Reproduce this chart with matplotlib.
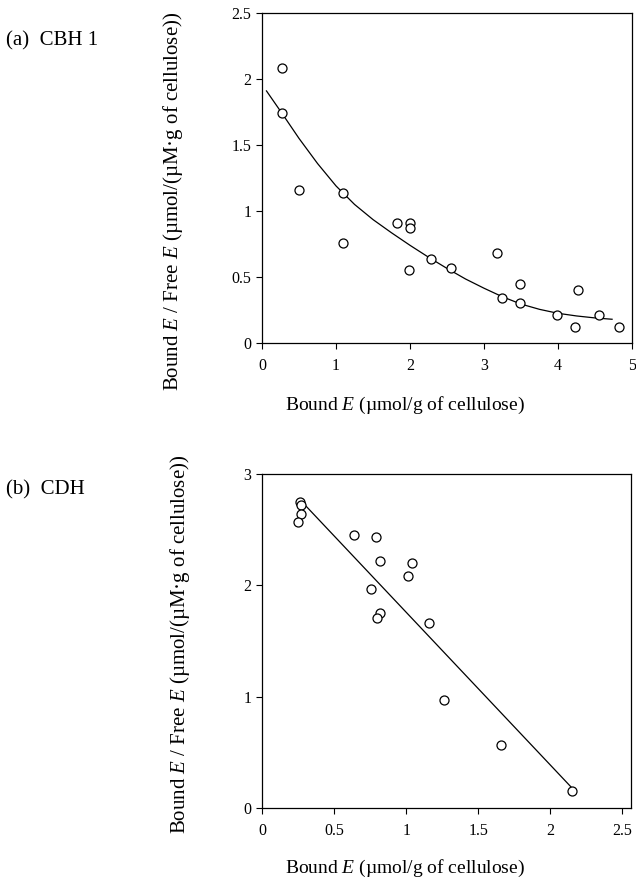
import matplotlib
matplotlib.use("Agg")
import matplotlib.pyplot as plt
from matplotlib.ticker import FuncFormatter

# --- fontes tipo Times ---
plt.rcParams['font.family'] = ['Liberation Serif', 'DejaVu Serif']
plt.rcParams['mathtext.fontset'] = 'custom'
plt.rcParams['mathtext.rm'] = 'Liberation Serif'
plt.rcParams['mathtext.it'] = 'Liberation Serif:italic'

# --- dados (a) CBH 1 ---
x_cbh = [0.27, 0.27, 0.50, 1.09, 1.09, 1.82, 2.00, 2.00, 1.98, 2.28,
         2.55, 3.18, 3.24, 3.49, 3.49, 3.99, 4.23, 4.27, 4.56, 4.83]
y_cbh = [2.08, 1.74, 1.16, 1.14, 0.76, 0.91, 0.91, 0.87, 0.55, 0.64,
         0.57, 0.68, 0.34, 0.45, 0.30, 0.21, 0.12, 0.40, 0.21, 0.12]
# curva ajustada
curva_x_cbh = [0.06, 0.27, 0.5, 0.75, 1.0, 1.25, 1.5, 1.75, 2.0, 2.25,
               2.5, 2.75, 3.0, 3.25, 3.5, 3.75, 4.0, 4.25, 4.5, 4.73]
curva_y_cbh = [1.91, 1.74, 1.55, 1.36, 1.19, 1.05, 0.935, 0.835, 0.74, 0.65,
               0.565, 0.485, 0.415, 0.35, 0.295, 0.255, 0.225, 0.205, 0.19, 0.18]

# --- dados (b) CDH ---
x_cdh = [0.265, 0.27, 0.27, 0.25, 0.64, 0.79, 0.82, 1.04, 1.01, 0.755,
         0.82, 0.80, 1.16, 1.26, 1.66, 2.15]
y_cdh = [2.75, 2.72, 2.64, 2.57, 2.45, 2.43, 2.22, 2.20, 2.08, 1.97,
         1.75, 1.71, 1.66, 0.97, 0.57, 0.15]
reta_x_cdh = [0.277, 2.143]
reta_y_cdh = [2.75, 0.19]

rotulo_y = r'Bound $\mathit{E}$ / Free $\mathit{E}$ (µmol/(µM·g of cellulose))'
rotulo_x = r'Bound $\mathit{E}$ (µmol/g of cellulose)'

fmt = FuncFormatter(lambda v, p: '%g' % v)

fig = plt.figure(figsize=(6.36, 8.82), dpi=100)
ax1 = fig.add_axes([0.412, 0.6111, 0.5818, 0.3741])
ax2 = fig.add_axes([0.412, 0.0839, 0.5802, 0.3787])

# painel (a)
ax1.plot(curva_x_cbh, curva_y_cbh, color='black', linewidth=0.9)
ax1.plot(x_cbh, y_cbh, linestyle='none', marker='o', markersize=6.5,
         markerfacecolor='white', markeredgecolor='black', markeredgewidth=0.9)
ax1.set_xlim(0, 5)
ax1.set_ylim(0, 2.5)
ax1.set_xticks([0, 1, 2, 3, 4, 5])
ax1.set_yticks([0, 0.5, 1, 1.5, 2, 2.5])

# painel (b)
ax2.plot(reta_x_cdh, reta_y_cdh, color='black', linewidth=0.9)
ax2.plot(x_cdh, y_cdh, linestyle='none', marker='o', markersize=6.5,
         markerfacecolor='white', markeredgecolor='black', markeredgewidth=0.9)
ax2.set_xlim(0, 2.56)
ax2.set_ylim(0, 3)
ax2.set_xticks([0, 0.5, 1, 1.5, 2, 2.5])
ax2.set_yticks([0, 1, 2, 3])

for ax, ylab_pos in [(ax1, (-0.207, 0.43)), (ax2, (-0.19, 0.49))]:
    ax.xaxis.set_major_formatter(fmt)
    ax.yaxis.set_major_formatter(fmt)
    ax.tick_params(direction='out', length=4.5, width=0.8, labelsize=11.5, color='black')
    ax.tick_params(axis='x', pad=6)
    ax.tick_params(axis='y', pad=3)
    for s in ax.spines.values():
        s.set_linewidth(0.9)
    ax.set_ylabel(rotulo_y, fontsize=15)
    ax.yaxis.set_label_coords(*ylab_pos)
    ax.set_xlabel(rotulo_x, fontsize=14)

ax1.xaxis.set_label_coords(0.386, -0.158)
ax2.xaxis.set_label_coords(0.388, -0.15)

fig.text(6 / 636, 1 - 45 / 882, '(a)  CBH 1', fontsize=15, va='baseline', ha='left')
fig.text(6 / 636, 1 - 494 / 882, '(b)  CDH', fontsize=15, va='baseline', ha='left')

fig.savefig('out.png', dpi=100)
